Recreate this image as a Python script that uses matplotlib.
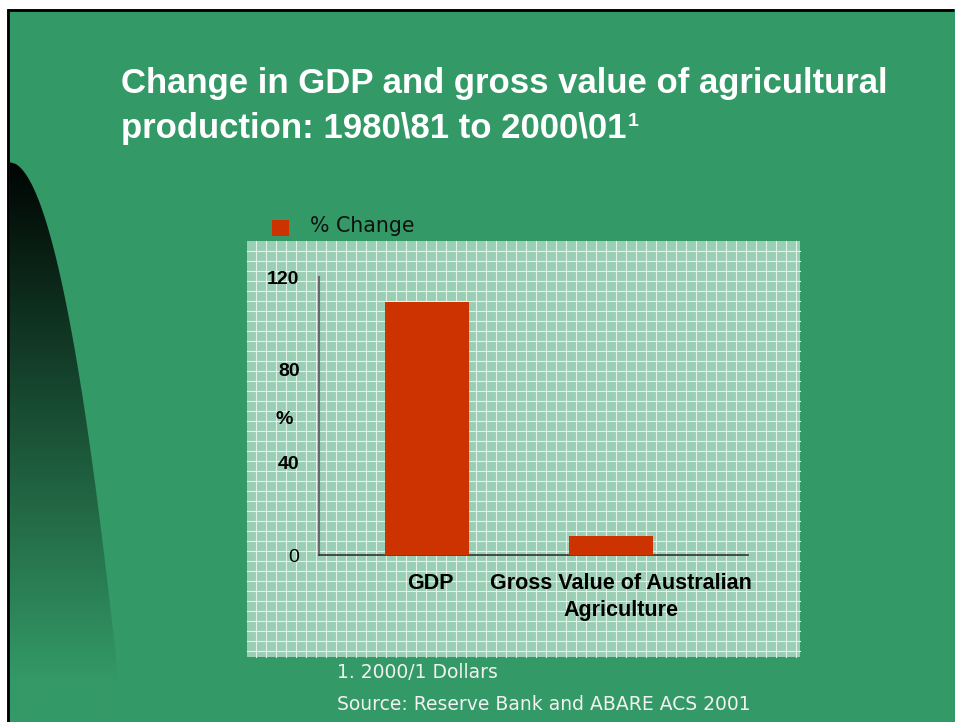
import numpy as np
import matplotlib
matplotlib.use("Agg")
import matplotlib.pyplot as plt
from matplotlib.patches import Rectangle, Polygon

# ---- data ----
categories = ["GDP", "Gross Value of Australian\nAgriculture"]
pct_change = [109, 8]
series_name = "% Change"
y_ticks = [0, 40, 80, 120]
y_tick_labels = ["0", "40", "80", "120"]
title_line1 = "Change in GDP and gross value of agricultural"
title_line2 = "production: 1980\\81 to 2000\\01"
title_sup = "1"
footnote1 = "1. 2000/1 Dollars"
footnote2 = "Source: Reserve Bank and ABARE ACS 2001"

W, H = 955, 722
SLIDE = "#339966"
BAR = "#cc3300"

fig = plt.figure(figsize=(W / 100, H / 100), dpi=100, facecolor="white")

# background axes in pixel coordinates
bg = fig.add_axes([0, 0, 1, 1])
bg.set_xlim(0, W)
bg.set_ylim(H, 0)
bg.axis("off")

bg.add_patch(Rectangle((7, 9), W - 7, H - 9, facecolor=SLIDE, edgecolor="none", zorder=0))
bg.plot([8.2, 8.2], [9, H], color="black", lw=2.0, zorder=1, solid_capstyle="butt")
bg.plot([7, W - 1], [10.3, 10.3], color="black", lw=2.0, zorder=1, solid_capstyle="butt")

# dark gradient swoosh on the left
y_top = 162
ys = np.linspace(y_top, H, 300)
xs = 9 + 4.8 * np.sqrt(ys - y_top)
poly_pts = np.vstack([np.column_stack([xs, ys]), [[9.5, H], [9.5, y_top]]])
poly = Polygon(poly_pts, closed=True, facecolor="none", edgecolor="none")
bg.add_patch(poly)
grad_y = np.linspace(0, 1, 400)
top = np.array([0.0, 0.02, 0.01])
bot = np.array([0x33, 0x99, 0x66]) / 255
t = np.clip((grad_y * (H - y_top)) / (680 - y_top), 0, 1)[:, None]
grad = top * (1 - t) + bot * t
img = bg.imshow(grad[:, None, :], extent=(9.5, 140, H, y_top), aspect="auto", zorder=1,
                interpolation="bilinear")
img.set_clip_path(poly)

# patterned chart area
gx0, gx1, gy0, gy1 = 247, 800, 241, 657
bg.add_patch(Rectangle((gx0, gy0), gx1 - gx0, gy1 - gy0, facecolor="#9bcfb5", edgecolor="none", zorder=2))
for x in np.arange(256, gx1, 10):
    bg.plot([x, x], [gy0, gy1], color="#e4f3ea", lw=0.8, zorder=3)
for y in np.arange(251, gy1, 10):
    bg.plot([gx0, gx1], [y, y], color="#e4f3ea", lw=0.8, zorder=3)

# legend
bg.add_patch(Rectangle((272, 220), 17, 16, facecolor=BAR, edgecolor="none", zorder=4))
bg.text(310, 226, series_name, fontsize=14.8, color="#111111", va="center", ha="left",
        family="DejaVu Sans", zorder=4)

# title
bg.text(121, 93, title_line1, fontsize=25, fontweight="bold", color="white",
        family="Liberation Sans", va="baseline", ha="left", zorder=4)
t2 = bg.text(121, 138, title_line2, fontsize=25, fontweight="bold", color="white",
             family="Liberation Sans", va="baseline", ha="left", zorder=4)
renderer = fig.canvas.get_renderer()
bb = t2.get_window_extent(renderer=renderer)
x_end = bb.x1
bg.text(x_end + 1, 126, title_sup, fontsize=14, fontweight="bold", color="white",
        family="Liberation Sans", va="baseline", ha="left", zorder=4)

# footnotes
bg.text(337, 673, footnote1, fontsize=13.5, color="#f2f2f2", family="DejaVu Sans",
        va="center", ha="left", zorder=4)
bg.text(337, 704, footnote2, fontsize=13.5, color="#f2f2f2", family="DejaVu Sans",
        va="center", ha="left", zorder=4)

# y-axis label
bg.text(284, 419, "%", fontsize=14, fontweight="bold", family="Liberation Sans",
        color="black", ha="center", va="center", zorder=4)

# ---- chart axes ----
ax = fig.add_axes([319 / W, (H - 555) / H, 429 / W, 278 / H])
ax.patch.set_alpha(0)
x = np.arange(len(categories))
ax.bar(x, pct_change, width=0.46, color=BAR, zorder=3)
ax.set_xlim(-0.587, 1.745)
ax.set_ylim(0, 120)
ax.set_yticks(y_ticks)
ax.set_yticklabels(y_tick_labels)
ax.set_xticks(x + np.array([0.016, 0.054]))
ax.set_xticklabels(categories)
for lab in ax.get_yticklabels():
    lab.set_family("Liberation Sans")
    lab.set_fontsize(14)
    lab.set_fontweight("normal" if lab.get_text() == "0" else "bold")
for lab in ax.get_xticklabels():
    lab.set_family("Liberation Sans")
    lab.set_fontsize(15.5)
    lab.set_fontweight("bold")
    lab.set_linespacing(1.4)
ax.tick_params(axis="y", length=0, pad=14)
ax.tick_params(axis="x", length=0, pad=13)
for s in ["top", "right"]:
    ax.spines[s].set_visible(False)
ax.spines["left"].set_color("#6a6a6a")
ax.spines["left"].set_linewidth(1.5)
ax.spines["bottom"].set_color("#333333")
ax.spines["bottom"].set_linewidth(1.2)

fig.savefig("out.png", dpi=100, facecolor="white")
